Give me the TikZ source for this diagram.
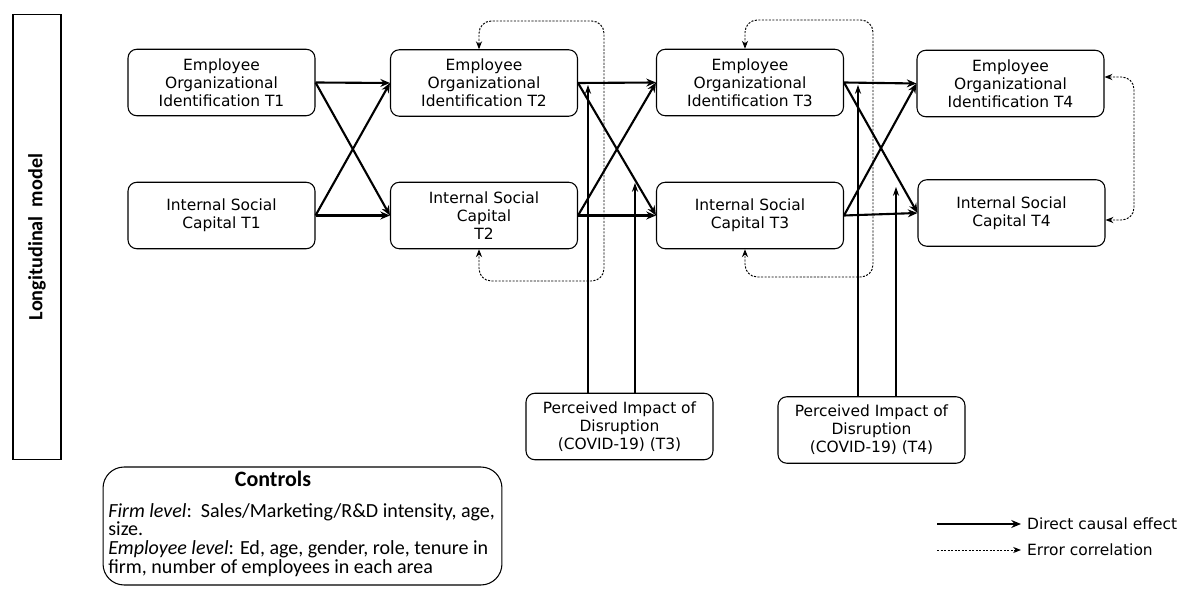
\documentclass[tikz,border=0pt]{standalone}
\usepackage{fontspec}
\setmainfont{DejaVu Sans}
\newfontfamily\calibri{Carlito}
\usetikzlibrary{arrows.meta}

\begin{document}
\begin{tikzpicture}[x=0.02cm, y=-0.02cm,
        var/.style={draw, rounded corners=5pt, line width=0.6pt, minimum width=3.74cm,
            minimum height=1.33cm, align=center, inner sep=0pt,
            font=\fontsize{8.8}{10.3}\selectfont},
        causal/.style={line width=1.2pt, -{Stealth[length=5.5pt,width=4.5pt]}},
        moder/.style={line width=0.6pt, -{Stealth[length=5pt,width=3.5pt]}},
        errline/.style={dash pattern=on 1.2pt off 0.8pt, line width=0.55pt, rounded corners=7pt},
        errtip/.style={{Stealth[length=4.5pt,width=3.5pt]}-{Stealth[length=4.5pt,width=3.5pt]}}]

        \useasboundingbox (0,0) rectangle (1181,594);

        % the frame on the left
        \node[draw, rotate=90, line width=0.6pt, minimum width=8.92cm, minimum height=0.96cm,
            font=\calibri\bfseries\fontsize{11.5}{13}\selectfont] (longbox) at (37,237) {Longitudinal\ \ model};

        % the variables at each time
        \node[var] (eoi1) at (221.5,82.5) {Employee\\Organizational\\Identification T1};
        \node[var] (isc1) at (221.5,215.5) {Internal Social\\Capital T1};
        \node[var] (eoi2) at (484,83) {Employee\\Organizational\\Identification T2};
        \node[var] (isc2) at (484,215.5) {Internal Social\\Capital\\T2};
        \node[var] (eoi3) at (750,82.5) {Employee\\Organizational\\Identification T3};
        \node[var] (isc3) at (750,215.5) {Internal Social\\Capital T3};
        \node[var] (eoi4) at (1010.5,83.5) {Employee\\Organizational\\Identification T4};
        \node[var] (isc4) at (1011.5,213) {Internal Social\\Capital T4};

        % the disruption boxes
        \node[var] (pi3) at (619.5,426.5) {Perceived Impact of\\Disruption\\(COVID-19) (T3)};
        \node[var] (pi4) at (871.5,430) {Perceived Impact of\\Disruption\\(COVID-19) (T4)};

        % the controls
        \node[draw, rounded corners=12pt, line width=0.6pt, minimum width=7.98cm,
            minimum height=2.36cm] (ctrl) at (302.5,526) {};
        \node[font=\calibri\bfseries\fontsize{12.5}{14}\selectfont] (ctrltitle) at (273,479) {Controls};
        \node[anchor=north west, inner sep=0pt, align=left,
            font=\calibri\fontsize{11.4}{10.6}\selectfont] (ctrltext) at (108,503)
            {\textit{Firm level}:\ \ Sales/Marketing/R\&D intensity, age,\\
             size.\\
             \textit{Employee level}: Ed, age, gender, role, tenure in\\
             firm, number of employees in each area};

        % the causal paths
        \draw[causal] (eoi1.east) -- (eoi2.west);
        \draw[causal] (eoi1.east) -- (isc2.west);
        \draw[causal] (isc1.east) -- (isc2.west);
        \draw[causal] (isc1.east) -- (eoi2.west);

        \draw[causal] (eoi2.east) -- (eoi3.west);
        \draw[causal] (eoi2.east) -- (isc3.west);
        \draw[causal] (isc2.east) -- (isc3.west);
        \draw[causal] (isc2.east) -- (eoi3.west);

        \draw[causal] (eoi3.east) -- (eoi4.west);
        \draw[causal] (eoi3.east) -- (isc4.west);
        \draw[causal] (isc3.east) -- (isc4.west);
        \draw[causal] (isc3.east) -- (eoi4.west);

        % where the disruption arrows end
        \coordinate (m3a) at (588,85);
        \coordinate (m3b) at (635,183);
        \coordinate (m4a) at (858,85);
        \coordinate (m4b) at (896,187);

        \draw[moder] (pi3.north -| m3a) -- (m3a);
        \draw[moder] (pi3.north -| m3b) -- (m3b);
        \draw[moder] (pi4.north -| m4a) -- (m4a);
        \draw[moder] (pi4.north -| m4b) -- (m4b);

        % the error correlations
        \coordinate (err2top) at (604,21);
        \coordinate (err2bot) at (604,281);
        \coordinate (err3top) at (873,20);
        \coordinate (err3bot) at (873,277);
        \coordinate (err4) at (1134,220);

        \draw[errline, errtip] ([xshift=-0.1cm]eoi2.north) |- (err2top) -- (err2bot) -| ([xshift=-0.1cm]isc2.south);
        \draw[errline, errtip] ([xshift=-0.1cm]eoi3.north) |- (err3top) -- (err3bot) -| ([xshift=-0.1cm]isc3.south);
        \draw[errline, errtip] ([yshift=0.13cm]eoi4.east) -| (err4) -- ([yshift=-0.14cm]isc4.east);

        % the legend
        \coordinate (lg1) at (937,524);
        \coordinate (lg2) at (937,550);
        \node[anchor=west, font=\fontsize{8.8}{10.3}\selectfont] (lgcausal) at (1021,524) {Direct causal effect};
        \node[anchor=west, font=\fontsize{8.8}{10.3}\selectfont] (lgerror) at (1021,550) {Error correlation};
        \draw[causal] (lg1) -- (lgcausal.west);
        \draw[dash pattern=on 1.2pt off 0.8pt, line width=0.55pt, -{Stealth[length=4.5pt,width=3.5pt]}] (lg2) -- (lgerror.west);

    \end{tikzpicture}
\end{document}
